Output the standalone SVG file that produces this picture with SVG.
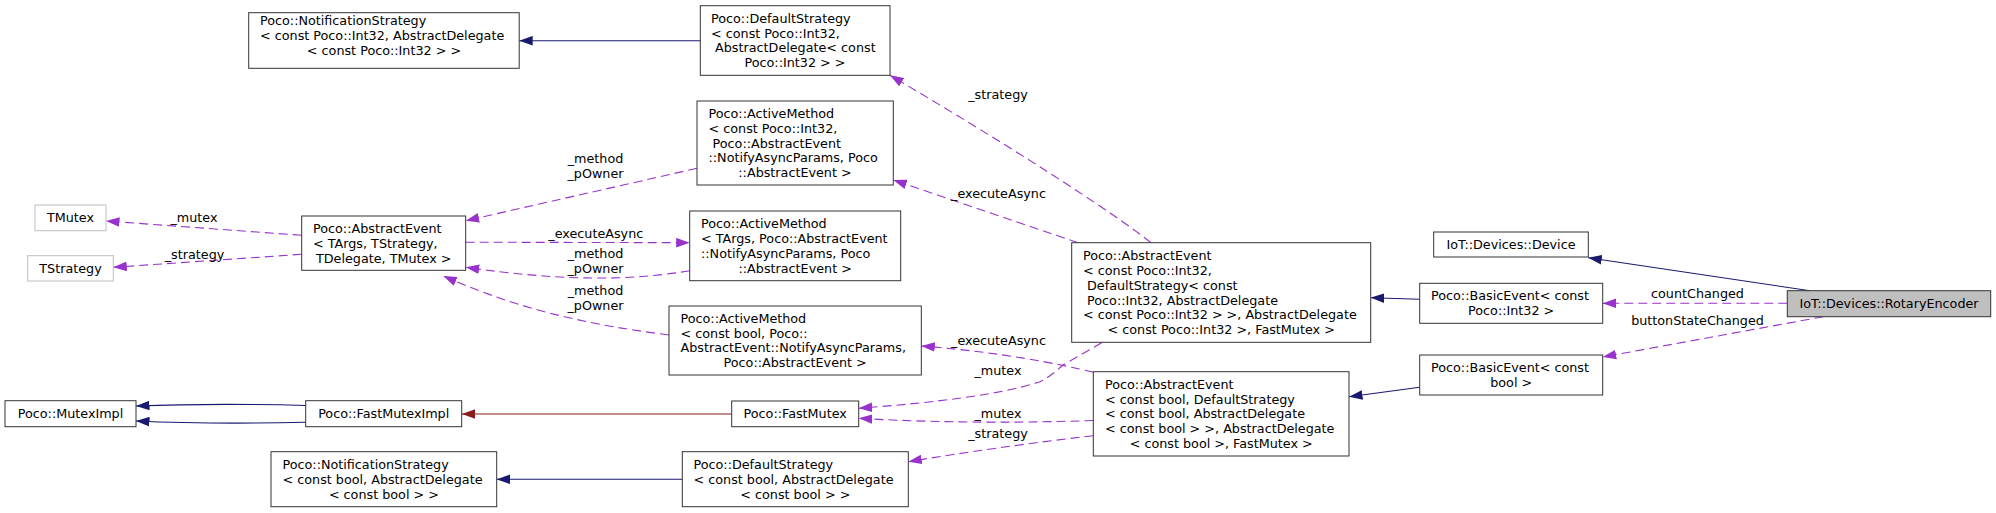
<svg xmlns="http://www.w3.org/2000/svg" width="1996" height="513" viewBox="0 0 1996 513">
<style>
  text { font-family: "DejaVu Sans", "Liberation Sans", sans-serif; font-size: 12.75px; fill: #000; white-space: pre; }
  .m { text-anchor: middle; }
  .box { fill: #fff; stroke: #333; stroke-width: 1; }
  .gbox { fill: #fff; stroke: #bfbfbf; stroke-width: 1; }
  .sel { fill: #bfbfbf; stroke: #333; stroke-width: 1; }
  .b { fill: none; stroke: #191970; stroke-width: 1.1; marker-end: url(#ab); }
  .p { fill: none; stroke: #9932cc; stroke-width: 1.1; stroke-dasharray: 9,5; marker-end: url(#ap); }
  .r { fill: none; stroke: #8b1a1a; stroke-width: 1.1; marker-end: url(#ar); }
</style>
<defs>
  <marker id="ab" viewBox="0 0 13.5 10" refX="13.5" refY="5" markerWidth="13.5" markerHeight="10" markerUnits="userSpaceOnUse" orient="auto"><path d="M0,0.2 L13.5,5 L0,9.8 z" fill="#191970"/></marker>
  <marker id="ap" viewBox="0 0 13.5 10" refX="13.5" refY="5" markerWidth="13.5" markerHeight="10" markerUnits="userSpaceOnUse" orient="auto"><path d="M0,0.2 L13.5,5 L0,9.8 z" fill="#9932cc"/></marker>
  <marker id="ar" viewBox="0 0 13.5 10" refX="13.5" refY="5" markerWidth="13.5" markerHeight="10" markerUnits="userSpaceOnUse" orient="auto"><path d="M0,0.2 L13.5,5 L0,9.8 z" fill="#8b1a1a"/></marker>
</defs>
<rect width="1996" height="513" fill="#fff"/>

<g id="edges">
  <path class="b" d="M700.3,40.7 L519.2,40.7"/>
  <path class="p" d="M1151,242.7 C1110,210 1000,140 890,75.3"/>
  <path class="p" d="M1078,242.7 L893.3,180"/>
  <path class="p" d="M697,168.3 L465.7,220.7"/>
  <path class="p" d="M301.7,235.3 L106,221"/>
  <path class="p" d="M301.7,254.3 L113.3,267.3"/>
  <path class="p" d="M465.7,242.2 L689.7,242.7"/>
  <path class="p" d="M689.7,270.7 C630,281 560,281 465.7,267.3"/>
  <path class="p" d="M669,335 C590,325 520,310 443.3,276"/>
  <path class="p" d="M1093.3,372.3 C1060,364 1000,352 921.3,346"/>
  <path class="p" d="M1101.7,342.7 L1063,365 C1055,372 1048,378 1040,381.7 C1000,395 930,403 858.7,408.3"/>
  <path class="p" d="M1093.3,420.5 C1020,423 940,423 858.7,418.3"/>
  <path class="p" d="M1093.3,435.7 C1030,443 960,453 908.3,461.7"/>
  <path class="r" d="M731.7,414 L461.7,414"/>
  <path class="b" d="M305.7,405.5 C250,404 190,404 136,406"/>
  <path class="b" d="M305.7,422.3 C250,423.5 190,423.5 136,421"/>
  <path class="b" d="M682.3,479.3 L496.7,479.3"/>
  <path class="b" d="M1419.7,299.3 L1370.7,297.7"/>
  <path class="b" d="M1419.7,387.3 L1349,396.7"/>
  <path class="b" d="M1810,290.7 L1588.3,257.7"/>
  <path class="p" d="M1787.3,303.3 L1602.7,303.3"/>
  <path class="p" d="M1823.3,316.7 L1602.7,357"/>
  <text class="m" x="998" y="99">_strategy</text>
  <text class="m" x="998.5" y="197.5">_executeAsync</text>
  <text class="m" x="595.5" y="162.5">_method</text>
  <text class="m" x="595.5" y="177.5">_pOwner</text>
  <text class="m" x="194" y="222">_mutex</text>
  <text class="m" x="194.5" y="258.5">_strategy</text>
  <text class="m" x="595.8" y="237.5">_executeAsync</text>
  <text class="m" x="595.5" y="257.5">_method</text>
  <text class="m" x="595.5" y="273">_pOwner</text>
  <text class="m" x="595.5" y="295">_method</text>
  <text class="m" x="595.5" y="310">_pOwner</text>
  <text class="m" x="998.5" y="345">_executeAsync</text>
  <text class="m" x="998" y="375">_mutex</text>
  <text class="m" x="998" y="417.5">_mutex</text>
  <text class="m" x="998" y="437.5">_strategy</text>
  <text class="m" x="1697.5" y="298">countChanged</text>
  <text class="m" x="1697.5" y="324.5">buttonStateChanged</text>
</g>

<g id="notif_int32">
  <rect class="box" x="248.7" y="12.7" width="270.5" height="55.6"/>
  <text x="260" y="25.2">Poco::NotificationStrategy</text>
  <text x="260" y="40">&lt; const Poco::Int32, AbstractDelegate</text>
  <text class="m" x="384" y="54.9">&lt; const Poco::Int32 &gt; &gt;</text>
</g>
<g id="default_int32">
  <rect class="box" x="700.3" y="5.7" width="189.7" height="69.6"/>
  <text x="711" y="22.7">Poco::DefaultStrategy</text>
  <text x="711" y="37.6">&lt; const Poco::Int32,</text>
  <text x="711" y="52.4"> AbstractDelegate&lt; const</text>
  <text class="m" x="795" y="67.3">Poco::Int32 &gt; &gt;</text>
</g>
<g id="active_int32">
  <rect class="box" x="697" y="101" width="196.3" height="84"/>
  <text x="708.5" y="117.8">Poco::ActiveMethod</text>
  <text x="708.5" y="132.7">&lt; const Poco::Int32,</text>
  <text x="708.5" y="147.5"> Poco::AbstractEvent</text>
  <text x="708.5" y="162.4">::NotifyAsyncParams, Poco</text>
  <text class="m" x="795" y="177.2">::AbstractEvent &gt;</text>
</g>
<g id="tmutex">
  <rect class="gbox" x="35" y="205" width="71" height="25.7"/>
  <text class="m" x="70.5" y="222.3">TMutex</text>
</g>
<g id="tstrategy">
  <rect class="gbox" x="27.7" y="255.7" width="85.6" height="25.3"/>
  <text class="m" x="70.5" y="272.8">TStrategy</text>
</g>
<g id="abstract_targs">
  <rect class="box" x="301.7" y="216" width="164" height="54.3"/>
  <text x="313" y="232.8">Poco::AbstractEvent</text>
  <text x="313" y="247.7">&lt; TArgs, TStrategy,</text>
  <text class="m" x="383.7" y="262.5">TDelegate, TMutex &gt;</text>
</g>
<g id="active_targs">
  <rect class="box" x="689.7" y="211" width="211" height="69.7"/>
  <text x="701" y="228.1">Poco::ActiveMethod</text>
  <text x="701" y="243">&lt; TArgs, Poco::AbstractEvent</text>
  <text x="701" y="257.8">::NotifyAsyncParams, Poco</text>
  <text class="m" x="795.2" y="272.7">::AbstractEvent &gt;</text>
</g>
<g id="active_bool">
  <rect class="box" x="669" y="306" width="252.3" height="69"/>
  <text x="680.5" y="322.7">Poco::ActiveMethod</text>
  <text x="680.5" y="337.6">&lt; const bool, Poco::</text>
  <text x="680.5" y="352.4">AbstractEvent::NotifyAsyncParams,</text>
  <text class="m" x="795.2" y="367.3">Poco::AbstractEvent &gt;</text>
</g>
<g id="muteximpl">
  <rect class="box" x="5" y="400.7" width="131" height="26"/>
  <text class="m" x="70.5" y="418.2">Poco::MutexImpl</text>
</g>
<g id="fastmuteximpl">
  <rect class="box" x="305.7" y="400.7" width="156" height="26"/>
  <text class="m" x="383.7" y="418.2">Poco::FastMutexImpl</text>
</g>
<g id="fastmutex">
  <rect class="box" x="731.7" y="401" width="127" height="25.7"/>
  <text class="m" x="795.2" y="418.3">Poco::FastMutex</text>
</g>
<g id="notif_bool">
  <rect class="box" x="271" y="451.7" width="225.7" height="55"/>
  <text x="282.5" y="468.9">Poco::NotificationStrategy</text>
  <text x="282.5" y="483.7">&lt; const bool, AbstractDelegate</text>
  <text class="m" x="383.9" y="498.6">&lt; const bool &gt; &gt;</text>
</g>
<g id="default_bool">
  <rect class="box" x="682.3" y="451.7" width="226" height="55"/>
  <text x="693.5" y="468.9">Poco::DefaultStrategy</text>
  <text x="693.5" y="483.7">&lt; const bool, AbstractDelegate</text>
  <text class="m" x="795.3" y="498.6">&lt; const bool &gt; &gt;</text>
</g>
<g id="abstract_int32">
  <rect class="box" x="1071.7" y="242.7" width="299" height="99.6"/>
  <text x="1083" y="259.9">Poco::AbstractEvent</text>
  <text x="1083" y="274.8">&lt; const Poco::Int32,</text>
  <text x="1083" y="289.6"> DefaultStrategy&lt; const</text>
  <text x="1083" y="304.5"> Poco::Int32, AbstractDelegate</text>
  <text x="1083" y="319.3">&lt; const Poco::Int32 &gt; &gt;, AbstractDelegate</text>
  <text class="m" x="1221.2" y="334.2">&lt; const Poco::Int32 &gt;, FastMutex &gt;</text>
</g>
<g id="abstract_bool">
  <rect class="box" x="1093.3" y="371.7" width="255.7" height="84.3"/>
  <text x="1105" y="388.7">Poco::AbstractEvent</text>
  <text x="1105" y="403.5">&lt; const bool, DefaultStrategy</text>
  <text x="1105" y="418.4">&lt; const bool, AbstractDelegate</text>
  <text x="1105" y="433.2">&lt; const bool &gt; &gt;, AbstractDelegate</text>
  <text class="m" x="1221.2" y="448.1">&lt; const bool &gt;, FastMutex &gt;</text>
</g>
<g id="device">
  <rect class="box" x="1433.7" y="232" width="154.6" height="25"/>
  <text class="m" x="1511" y="249">IoT::Devices::Device</text>
</g>
<g id="basicevent_int32">
  <rect class="box" x="1419.7" y="283.3" width="183" height="40"/>
  <text x="1431" y="300.4">Poco::BasicEvent&lt; const</text>
  <text class="m" x="1511.2" y="315.2">Poco::Int32 &gt;</text>
</g>
<g id="basicevent_bool">
  <rect class="box" x="1419.7" y="355" width="183" height="40"/>
  <text x="1431" y="372.1">Poco::BasicEvent&lt; const</text>
  <text class="m" x="1511.2" y="386.9">bool &gt;</text>
</g>
<g id="rotaryencoder">
  <rect class="sel" x="1787.3" y="290.7" width="203.4" height="26"/>
  <text class="m" x="1889" y="308.2">IoT::Devices::RotaryEncoder</text>
</g>
</svg>
